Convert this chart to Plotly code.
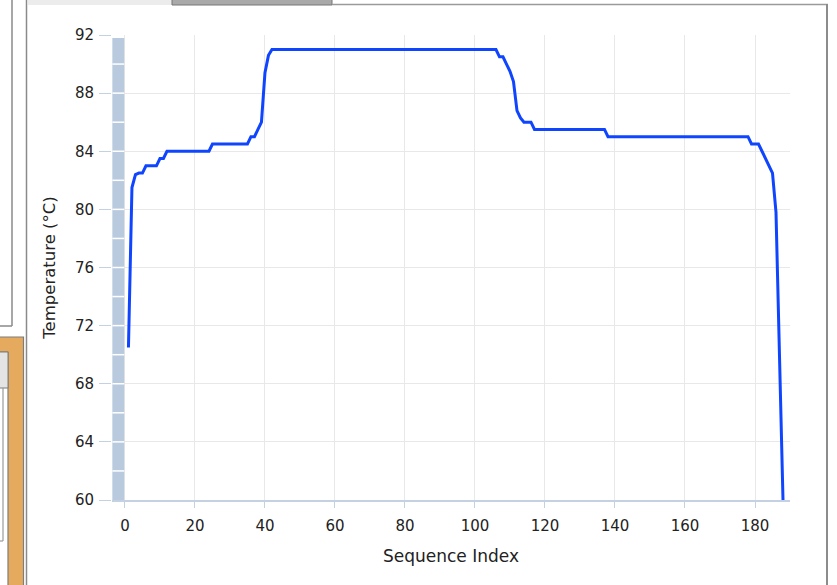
import plotly.graph_objects as go

# ---- data ----
seq_index = list(range(1, 189))
temperature = [
    70.5, 81.5, 82.4, 82.5, 82.5, 83, 83, 83, 83, 83.5,
    83.5, 84, 84, 84, 84, 84, 84, 84, 84, 84,
    84, 84, 84, 84, 84.5, 84.5, 84.5, 84.5, 84.5, 84.5,
    84.5, 84.5, 84.5, 84.5, 84.5, 85, 85, 85.5, 86, 89.4,
    90.6, 91, 91, 91, 91, 91, 91, 91, 91, 91,
    91, 91, 91, 91, 91, 91, 91, 91, 91, 91,
    91, 91, 91, 91, 91, 91, 91, 91, 91, 91,
    91, 91, 91, 91, 91, 91, 91, 91, 91, 91,
    91, 91, 91, 91, 91, 91, 91, 91, 91, 91,
    91, 91, 91, 91, 91, 91, 91, 91, 91, 91,
    91, 91, 91, 91, 91, 91, 90.5, 90.5, 90, 89.5,
    88.8, 86.8, 86.3, 86, 86, 86, 85.5, 85.5, 85.5, 85.5,
    85.5, 85.5, 85.5, 85.5, 85.5, 85.5, 85.5, 85.5, 85.5, 85.5,
    85.5, 85.5, 85.5, 85.5, 85.5, 85.5, 85.5, 85, 85, 85,
    85, 85, 85, 85, 85, 85, 85, 85, 85, 85,
    85, 85, 85, 85, 85, 85, 85, 85, 85, 85,
    85, 85, 85, 85, 85, 85, 85, 85, 85, 85,
    85, 85, 85, 85, 85, 85, 85, 85, 84.5, 84.5,
    84.5, 84, 83.5, 83, 82.5, 79.8, 70, 60,
]
y_ticks = [60, 64, 68, 72, 76, 80, 84, 88, 92]
x_ticks = [0, 20, 40, 60, 80, 100, 120, 140, 160, 180]

W, H = 837, 585
ML, MR, MT, MB = 112, 47, 35, 85
PW, PH = W - ML - MR, H - MT - MB


def px(x):
    return (x - ML) / PW


def py(y):
    return (H - MB - y) / PH


fig = go.Figure()
fig.add_trace(go.Scatter(
    x=seq_index, y=temperature, mode="lines",
    line=dict(color="#0f45ff", width=3),
    hoverinfo="skip", showlegend=False,
))

shapes = []
# left range band
BAND = "#b9cadf"
shapes.append(dict(type="rect", xref="x", yref="y", x0=-3.6, x1=-0.2,
                   y0=60, y1=91.8, fillcolor=BAND, line=dict(width=0), layer="above"))
for v in range(62, 92, 2):
    shapes.append(dict(type="line", xref="x", yref="y", x0=-3.6, x1=-0.2,
                       y0=v, y1=v, line=dict(color="white", width=1.5), layer="above"))

GR = "#8a8a8a"
# surrounding UI frame
ui = [
    dict(type="rect", x0=px(28), x1=px(172), y0=py(0), y1=py(5), fillcolor="#ececec", line=dict(width=0)),
    dict(type="rect", x0=px(172), x1=px(332), y0=py(-2), y1=py(5), fillcolor="#a9a9a9", line=dict(color="#777777", width=1)),
    dict(type="line", x0=px(332), x1=px(828), y0=py(4.5), y1=py(4.5), line=dict(color="#9a9a9a", width=1.5)),
    dict(type="line", x0=px(827), x1=px(827), y0=py(4), y1=py(586), line=dict(color="#8c8c8c", width=2)),
    dict(type="line", x0=px(26.5), x1=px(26.5), y0=py(-1), y1=py(586), line=dict(color=GR, width=1.5)),
    dict(type="line", x0=px(12), x1=px(12), y0=py(-1), y1=py(326), line=dict(color=GR, width=1.5)),
    dict(type="line", x0=px(-1), x1=px(12), y0=py(326), y1=py(326), line=dict(color=GR, width=1.5)),
    dict(type="rect", x0=px(-1), x1=px(23.5), y0=py(337), y1=py(586), fillcolor="#e6aa5f", line=dict(color="#7d7d7d", width=1.2)),
    dict(type="rect", x0=px(-1), x1=px(8), y0=py(352), y1=py(586), fillcolor="white", line=dict(color="#7d7d7d", width=1.2)),
    dict(type="rect", x0=px(-1), x1=px(8), y0=py(352), y1=py(388), fillcolor="#e4e4e4", line=dict(color="#7d7d7d", width=1)),
    dict(type="line", x0=px(3), x1=px(3), y0=py(388), y1=py(541), line=dict(color="#9a9a9a", width=1.2)),
    dict(type="line", x0=px(-1), x1=px(3), y0=py(541), y1=py(541), line=dict(color="#9a9a9a", width=1.2)),
]
for s in ui:
    s.update(xref="paper", yref="paper", layer="below")
    shapes.append(s)

FONT = "DejaVu Sans, Verdana, sans-serif"
AX = "#c3d1e2"
TXT = "#222222"

fig.update_layout(
    width=W, height=H,
    margin=dict(l=ML, r=MR, t=MT, b=MB, pad=0),
    paper_bgcolor="white", plot_bgcolor="white",
    font=dict(family=FONT, size=15, color=TXT),
    shapes=shapes,
    xaxis=dict(
        range=[-3.7, 190], tickmode="array", tickvals=x_ticks,
        showgrid=True, gridcolor="#e8e8e8", gridwidth=1,
        zeroline=False, showline=True, linecolor=AX, linewidth=1.5,
        ticks="outside", ticklen=6, tickcolor=AX, tickwidth=1,
        ticklabelstandoff=5,
        tickfont=dict(family=FONT, size=15, color=TXT),
        title=dict(text="Sequence Index", font=dict(family=FONT, size=17, color=TXT), standoff=16),
    ),
    yaxis=dict(
        range=[60, 92], tickmode="array", tickvals=y_ticks,
        showgrid=True, gridcolor="#e8e8e8", gridwidth=1,
        zeroline=False, showline=False,
        ticks="outside", ticklen=12, tickcolor=AX, tickwidth=1,
        ticklabelstandoff=2,
        tickfont=dict(family=FONT, size=15, color=TXT),
        title=dict(text="Temperature (°C)", font=dict(family=FONT, size=16.5, color=TXT), standoff=15),
    ),
)

fig.write_html("out.html", config={"displayModeBar": False},
               post_script="document.body.style.margin='0';")
